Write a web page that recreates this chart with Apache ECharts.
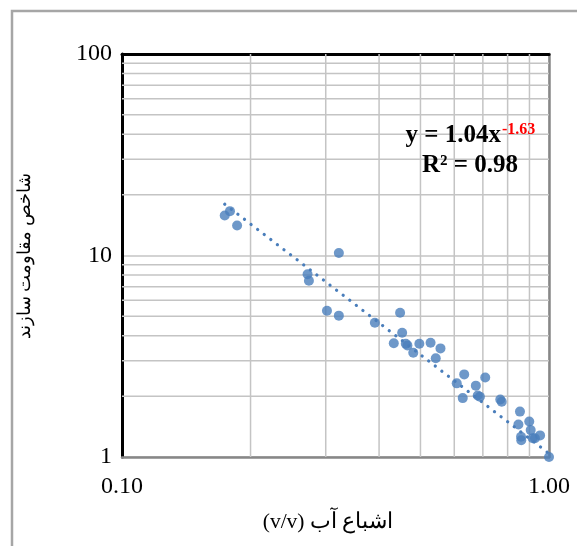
<!DOCTYPE html>
<html>
<head>
<meta charset="utf-8">
<script src="https://cdn.jsdelivr.net/npm/echarts@6/dist/echarts.min.js"></script>
<style>
  html, body { margin: 0; padding: 0; background: #ffffff; }
  #chart { width: 577px; height: 546px; }
</style>
</head>
<body>
<div id="chart"></div>
<script>
// Water saturation (v/v) against formation resistivity index
const saturation = [
  0.174, 0.179, 0.186, 0.322, 0.272, 0.274, 0.302, 0.322, 0.391, 0.448,
  0.453, 0.433, 0.462, 0.466, 0.481, 0.497, 0.528, 0.557, 0.543, 0.633,
  0.608, 0.709, 0.674, 0.628, 0.681, 0.689, 0.769, 0.775, 0.855, 0.848,
  0.899, 0.860, 0.861, 0.906, 0.916, 0.927, 0.953, 1.000
];
const resistivityIndex = [
  15.8, 16.6, 14.1, 10.3, 8.07, 7.50, 5.32, 5.03, 4.64, 5.20,
  4.14, 3.67, 3.65, 3.58, 3.29, 3.65, 3.69, 3.46, 3.09, 2.57,
  2.32, 2.48, 2.26, 1.96, 2.02, 1.99, 1.93, 1.88, 1.68, 1.45,
  1.50, 1.26, 1.21, 1.36, 1.24, 1.24, 1.28, 1.00
];

// Power-law fit y = a * x^b
const fitA = 1.04;
const fitB = -1.63;
const fitR2 = 0.98;

// Axis ticks and minor grid positions
const xTicks = [0.1, 1];
const yTicks = [1, 10, 100];
const xMinorGrid = [0.2, 0.3, 0.4, 0.5, 0.6, 0.7, 0.8, 0.9];
const yMinorGrid = [2, 3, 4, 5, 6, 7, 8, 9, 20, 30, 40, 50, 60, 70, 80, 90];

const xTitle = 'اشباع آب (v/v)';
const yTitle = 'شاخص مقاومت سازند';

// Right-to-left embedding so the Persian titles keep their reading order
const rtl = s => '\u202B' + s + '\u202C';

const points = saturation.map((x, i) => [x, resistivityIndex[i]]);
const xMinData = Math.min(...saturation);
const xMaxData = Math.max(...saturation);
const fitLine = [xMinData, xMaxData].map(x => [x, fitA * Math.pow(x, fitB)]);

const gridColor = '#c4c4c4';
const serif = '"Liberation Serif", "Times New Roman", serif';

const gridSeries = [];
xMinorGrid.forEach(v => gridSeries.push({
  type: 'line', silent: true, symbol: 'none', z: 1,
  data: [[v, yTicks[0]], [v, yTicks[yTicks.length - 1]]],
  lineStyle: { color: gridColor, width: 1.5 }
}));
yMinorGrid.forEach(v => gridSeries.push({
  type: 'line', silent: true, symbol: 'none', z: 1,
  data: [[xTicks[0], v], [xTicks[xTicks.length - 1], v]],
  lineStyle: { color: gridColor, width: 1.5 }
}));

const chart = echarts.init(document.getElementById('chart'), null, { renderer: 'canvas' });

chart.setOption({
  animation: false,
  backgroundColor: '#ffffff',
  grid: { left: 122, top: 54, right: 28, bottom: 89, containLabel: false },
  xAxis: [
    {
      type: 'log', logBase: 10, min: xTicks[0], max: xTicks[xTicks.length - 1],
      position: 'bottom',
      axisLine: { show: true, lineStyle: { color: '#878787', width: 2.5 } },
      axisTick: { show: false },
      axisLabel: {
        margin: 18, color: '#000', fontSize: 24, fontFamily: serif,
        formatter: v => Number(v).toFixed(2)
      },
      splitLine: { show: true, lineStyle: { color: gridColor, width: 1.5 } }
    },
    {
      type: 'log', logBase: 10, min: xTicks[0], max: xTicks[xTicks.length - 1],
      position: 'top',
      axisLine: { show: true, lineStyle: { color: '#000', width: 3 } },
      axisTick: { show: false }, axisLabel: { show: false }, splitLine: { show: false }
    }
  ],
  yAxis: [
    {
      type: 'log', logBase: 10, min: yTicks[0], max: yTicks[yTicks.length - 1],
      position: 'left',
      axisLine: { show: true, lineStyle: { color: '#000', width: 3 } },
      axisTick: { show: false },
      axisLabel: {
        margin: 10, color: '#000', fontSize: 24, fontFamily: serif,
        formatter: v => String(Math.round(v))
      },
      splitLine: { show: true, lineStyle: { color: gridColor, width: 1.5 } }
    },
    {
      type: 'log', logBase: 10, min: yTicks[0], max: yTicks[yTicks.length - 1],
      position: 'right',
      axisLine: { show: true, lineStyle: { color: '#878787', width: 2.5 } },
      axisTick: { show: false }, axisLabel: { show: false }, splitLine: { show: false }
    }
  ],
  series: gridSeries.concat([
    {
      type: 'scatter', name: 'data', silent: true, z: 3,
      symbol: 'circle', symbolSize: 10, clip: false,
      itemStyle: { color: '#4a7ebb' },
      data: points
    },
    {
      type: 'line', name: 'fit', silent: true, z: 4, symbol: 'none',
      lineStyle: { color: '#4a7ebb', width: 3.2, type: [0.1, 8.2], cap: 'round' },
      data: fitLine
    }
  ]),
  graphic: [
    {
      type: 'rect', silent: true, z: 0,
      shape: { x: 12, y: 11, width: 700, height: 700 },
      style: { fill: 'none', stroke: '#a6a6a6', lineWidth: 2.5 }
    },
    {
      type: 'text', silent: true, z: 10,
      x: 501, y: 136,
      style: {
        text: 'y = ' + fitA.toFixed(2) + 'x', textAlign: 'right', textVerticalAlign: 'middle',
        font: 'bold 25px ' + serif, fill: '#000'
      }
    },
    {
      type: 'text', silent: true, z: 10,
      x: 502, y: 130,
      style: {
        text: String(fitB), textAlign: 'left', textVerticalAlign: 'middle',
        font: 'bold 16px ' + serif, fill: '#ff0000'
      }
    },
    {
      type: 'text', silent: true, z: 10,
      x: 470, y: 166,
      style: {
        text: 'R² = ' + fitR2.toFixed(2), textAlign: 'center', textVerticalAlign: 'middle',
        font: 'bold 25px ' + serif, fill: '#000'
      }
    },
    {
      type: 'text', silent: true, z: 10,
      x: 328, y: 522,
      style: {
        text: rtl(xTitle), textAlign: 'center', textVerticalAlign: 'middle',
        font: '21.5px ' + serif, fill: '#000'
      }
    },
    {
      type: 'text', silent: true, z: 10,
      x: 25, y: 256, rotation: Math.PI / 2,
      style: {
        text: rtl(yTitle), textAlign: 'center', textVerticalAlign: 'middle',
        font: '17.5px ' + serif, fill: '#000'
      }
    }
  ]
});
</script>
</body>
</html>
